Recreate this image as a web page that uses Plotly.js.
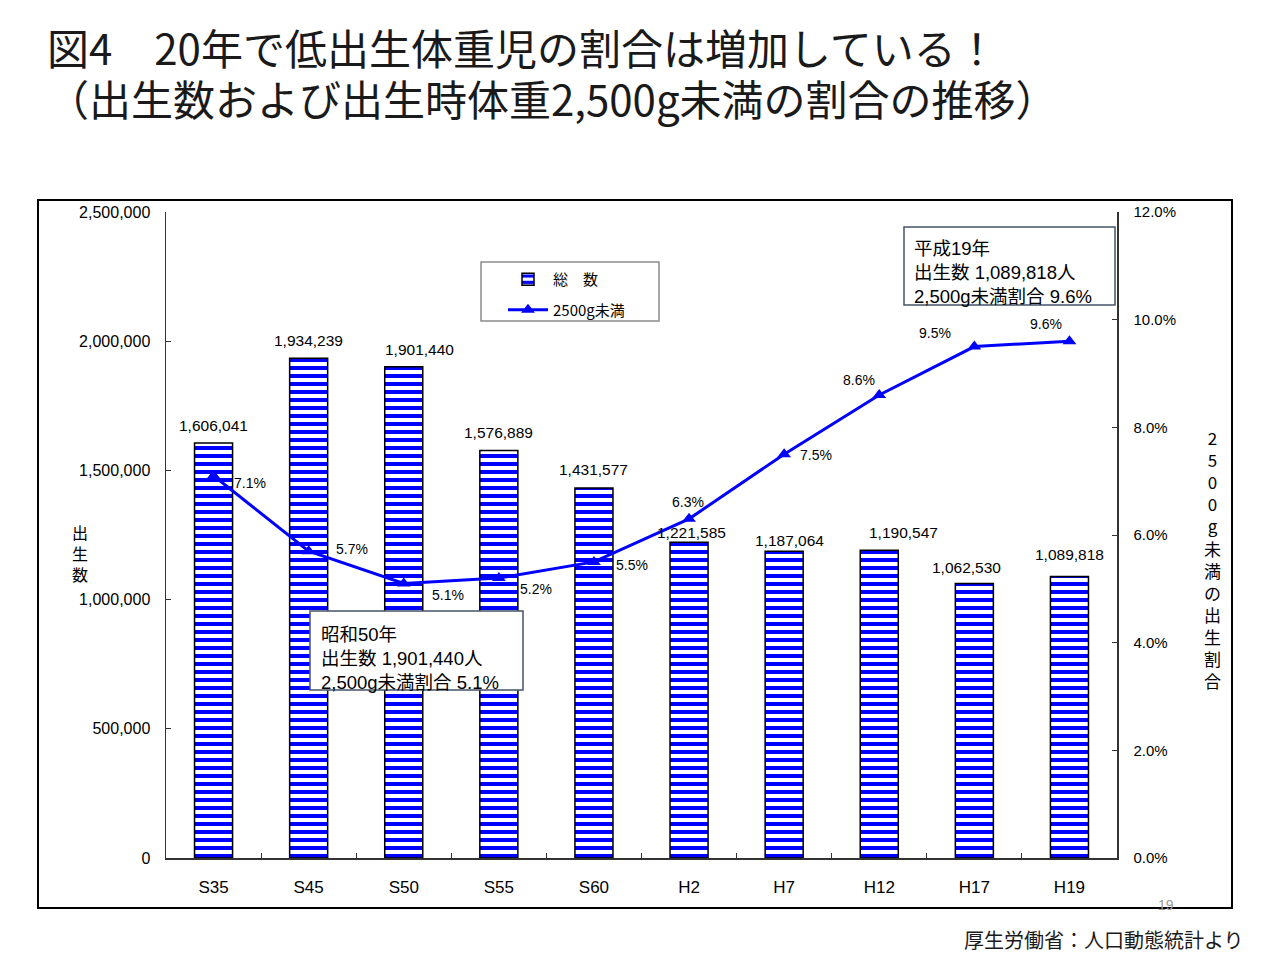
<!DOCTYPE html>
<html>
<head>
<meta charset="utf-8">
<script src="https://cdn.plot.ly/plotly-3.0.1.min.js"></script>
<style>
  html, body { margin: 0; padding: 0; background: #ffffff; }
  #chart { width: 1280px; height: 960px; }
</style>
</head>
<body>
<div id="chart"></div>
<script>
// ---- data ----
const categories = ['S35', 'S45', 'S50', 'S55', 'S60', 'H2', 'H7', 'H12', 'H17', 'H19'];
const births = [1606041, 1934239, 1901440, 1576889, 1431577, 1221585, 1187064, 1190547, 1062530, 1089818];
const lowWeightPct = [7.1, 5.7, 5.1, 5.2, 5.5, 6.3, 7.5, 8.6, 9.5, 9.6];
const leftTicks = [0, 500000, 1000000, 1500000, 2000000, 2500000];
const rightTicks = [0, 2, 4, 6, 8, 10, 12];

// ---- styling (label offsets in px, as placed in the original) ----
const FONT = '"Liberation Sans", Arial, "Noto Sans CJK JP", sans-serif';
const JP = '"Noto Sans CJK JP", "Liberation Sans", sans-serif';
const barLabelDx = [0, 0, 16, 0, 0, 2, 5, 24, -8, 0];
const barLabelDy = [18, 18, 17, 18, 19, 10, 11, 18, 16, 22];
const pctLabelDx = [36, 43, 44, 37, 38, -1, 32, -20, -39, -23];
const pctLabelDy = [-7, 2, -12, -11, -3, 17, -1, 15, 14, 17];

const barTrace = {
  type: 'bar',
  name: '総　数',
  legendgroup: 'a',
  x: categories,
  y: births,
  width: 0.4,
  marker: {
    color: '#ffffff',
    line: { color: '#000000', width: 1.5 },
    pattern: { shape: '-', fgcolor: '#0000ff', bgcolor: '#ffffff', size: 8, solidity: 0.5, fillmode: 'replace' }
  },
  hoverinfo: 'x+y'
};

const lineTrace = {
  type: 'scatter',
  mode: 'lines+markers',
  name: '2500g未満',
  legendgroup: 'b',
  x: categories,
  y: lowWeightPct,
  yaxis: 'y2',
  line: { color: '#0000ff', width: 3 },
  marker: { symbol: 'triangle-up', size: 12, color: '#0000ff' },
  cliponaxis: false
};

const W = 951, H = 646, L = 166, T = 212;
const px = x => (x - L) / W;
const py = y => (T + H - y) / H;

const barLabels = categories.map((c, i) => ({
  xref: 'x', yref: 'y', x: c, y: births[i],
  xshift: barLabelDx[i], yshift: barLabelDy[i],
  xanchor: 'center', yanchor: 'middle', showarrow: false,
  text: births[i].toLocaleString('en-US'),
  font: { family: FONT, size: 15.5, color: '#000000' }
}));

const pctLabels = categories.map((c, i) => ({
  xref: 'x', yref: 'y2', x: c, y: lowWeightPct[i],
  xshift: pctLabelDx[i], yshift: pctLabelDy[i],
  xanchor: 'center', yanchor: 'middle', showarrow: false,
  text: lowWeightPct[i].toFixed(1) + '%',
  font: { family: FONT, size: 14, color: '#000000' }
}));

const layout = {
  width: 1280,
  height: 960,
  margin: { l: 166, r: 163, t: 212, b: 102 },
  paper_bgcolor: '#ffffff',
  plot_bgcolor: '#ffffff',
  font: { family: FONT, color: '#000000' },
  showlegend: true,
  xaxis: {
    type: 'category',
    range: [-0.5, 9.5],
    showline: true, linecolor: '#333333', linewidth: 1.5,
    ticks: 'inside', ticklen: 5, tickcolor: '#333333', tickson: 'boundaries',
    tickfont: { family: FONT, size: 17, color: '#000000' },
    showgrid: false, zeroline: false,
    ticklabelstandoff: 13
  },
  yaxis: {
    range: [0, 2500000],
    tickvals: leftTicks,
    tickformat: ',d',
    showline: true, linecolor: '#333333', linewidth: 1.5,
    ticks: 'inside', ticklen: 5, tickcolor: '#333333',
    tickfont: { family: FONT, size: 16, color: '#000000' },
    showgrid: false, zeroline: false,
    ticklabelstandoff: 11
  },
  yaxis2: {
    overlaying: 'y',
    side: 'right',
    range: [0, 12],
    tickvals: rightTicks,
    ticktext: rightTicks.map(v => v.toFixed(1) + '%'),
    showline: true, linecolor: '#333333', linewidth: 1.5,
    ticks: 'inside', ticklen: 5, tickcolor: '#333333',
    tickfont: { family: FONT, size: 15, color: '#000000' },
    showgrid: false, zeroline: false,
    ticklabelstandoff: 12
  },
  legend: {
    x: px(503), y: py(263), xanchor: 'left', yanchor: 'top',
    bgcolor: 'rgba(0,0,0,0)', borderwidth: 0,
    font: { family: JP, size: 15, color: '#000000' },
    traceorder: 'grouped',
    tracegroupgap: 8,
    itemwidth: 40
  },
  shapes: [
    { type: 'rect', xref: 'paper', yref: 'paper',
      x0: px(38), x1: px(1232), y0: py(908), y1: py(200),
      line: { color: '#000000', width: 2 }, fillcolor: 'rgba(0,0,0,0)', layer: 'below' },
    { type: 'rect', xref: 'paper', yref: 'paper',
      x0: px(481), x1: px(659), y0: py(321), y1: py(262),
      line: { color: '#8c8c8c', width: 1.5 }, fillcolor: '#ffffff', layer: 'below' },
    { type: 'rect', xref: 'paper', yref: 'paper',
      x0: px(310), x1: px(523), y0: py(690), y1: py(611),
      line: { color: '#44546a', width: 1.5 }, fillcolor: '#ffffff', layer: 'above' },
    { type: 'rect', xref: 'paper', yref: 'paper',
      x0: px(904), x1: px(1115), y0: py(305), y1: py(227),
      line: { color: '#44546a', width: 1.5 }, fillcolor: '#ffffff', layer: 'above' }
  ],
  annotations: [
    { xref: 'paper', yref: 'paper', x: px(45), y: py(47), xanchor: 'left', yanchor: 'middle',
      text: '図4　20年で低出生体重児の割合は増加している！', showarrow: false,
      font: { family: JP, size: 42, color: '#1a1a1a' } },
    { xref: 'paper', yref: 'paper', x: px(45), y: py(98), xanchor: 'left', yanchor: 'middle',
      text: '（出生数および出生時体重2,500g未満の割合の推移）', showarrow: false,
      font: { family: JP, size: 42, color: '#1a1a1a' } },
    { xref: 'paper', yref: 'paper', x: px(80), y: py(553), xanchor: 'center', yanchor: 'middle',
      text: '出<br>生<br>数', showarrow: false,
      font: { family: JP, size: 16, color: '#000000' } },
    { xref: 'paper', yref: 'paper', x: px(1212), y: py(559), xanchor: 'center', yanchor: 'middle',
      text: '2<br>5<br>0<br>0<br>g<br>未<br>満<br>の<br>出<br>生<br>割<br>合', showarrow: false,
      font: { family: JP, size: 17, color: '#000000' } },
    { xref: 'paper', yref: 'paper', x: px(319), y: py(658), xanchor: 'left', yanchor: 'middle',
      text: '昭和50年<br>出生数 1,901,440人<br>2,500g未満割合 5.1%', showarrow: false,
      align: 'left',
      font: { family: FONT, size: 18.5, color: '#000000' } },
    { xref: 'paper', yref: 'paper', x: px(912), y: py(272), xanchor: 'left', yanchor: 'middle',
      text: '平成19年<br>出生数 1,089,818人<br>2,500g未満割合 9.6%', showarrow: false,
      align: 'left',
      font: { family: FONT, size: 18.5, color: '#000000' } },
    { xref: 'paper', yref: 'paper', x: px(1166), y: py(905), xanchor: 'center', yanchor: 'middle',
      text: '19', showarrow: false,
      font: { family: FONT, size: 14, color: '#999999' } },
    { xref: 'paper', yref: 'paper', x: px(1246), y: py(940), xanchor: 'right', yanchor: 'middle',
      text: '厚生労働省：人口動態統計より', showarrow: false,
      font: { family: JP, size: 20, color: '#1a1a1a' } }
  ].concat(barLabels, pctLabels)
};

Plotly.newPlot('chart', [barTrace, lineTrace], layout, { displayModeBar: false, staticPlot: true });
</script>
</body>
</html>
